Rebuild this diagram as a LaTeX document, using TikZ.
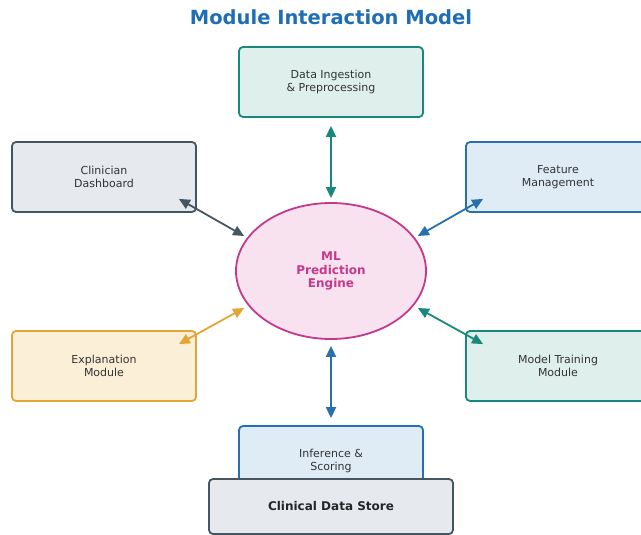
\documentclass[tikz,border=0pt]{standalone}
\usepackage{fontspec}
\setmainfont{DejaVu Sans}
\usetikzlibrary{calc,arrows.meta,shapes.geometric}
\definecolor{tealline}{HTML}{16897A}
\definecolor{tealfill}{HTML}{DFF0EC}
\definecolor{grayline}{HTML}{465562}
\definecolor{grayfill}{HTML}{E6E9EE}
\definecolor{blueline}{HTML}{2770B0}
\definecolor{bluefill}{HTML}{DFECF6}
\definecolor{orangeline}{HTML}{E3A535}
\definecolor{orangefill}{HTML}{FCEFD8}
\definecolor{magline}{HTML}{C4398C}
\definecolor{magfill}{HTML}{F8E2F0}
\definecolor{titleblue}{HTML}{1F6DB3}
\definecolor{txtgray}{HTML}{333333}
\begin{document}
\begin{tikzpicture}[x=1pt,y=-1pt,
		box/.style={draw,rounded corners=4pt,line width=1.8pt,minimum width=184pt,minimum height=70pt,align=center,text=txtgray,font=\fontsize{11}{13}\selectfont},
		link/.style={<->,>={Triangle[length=11pt,width=10pt]},line width=1.8pt}]
		\useasboundingbox (0,0) rectangle (641,535);
		\node[font=\bfseries\fontsize{19.5}{22}\selectfont,text=titleblue] (title) at (331,17) {Module Interaction Model};
		% modules round the engine
		\node[box,fill=tealfill,draw=tealline] (ingest) at (331,82) {Data Ingestion\\\& Preprocessing};
		\node[box,fill=grayfill,draw=grayline] (dash) at (104,177) {Clinician\\Dashboard};
		\node[box,fill=bluefill,draw=blueline] (feature) at (558,177) {Feature\\Management};
		\node[box,fill=orangefill,draw=orangeline] (explain) at (104,366) {Explanation\\Module};
		\node[box,fill=tealfill,draw=tealline] (train) at (558,366) {Model Training\\Module};
		\node[box,fill=bluefill,draw=blueline] (infer) at (331,461) {Inference \&\\Scoring};
		\node[box,fill=grayfill,draw=grayline,minimum width=244pt,minimum height=55pt,font=\bfseries\fontsize{12}{14}\selectfont,text=black!85] (store) at (331,506.5) {Clinical Data Store};
		\node[ellipse,draw=magline,fill=magfill,line width=1.8pt,minimum width=190pt,minimum height=136pt,align=center,text=magline,font=\bfseries\fontsize{12}{13.5}\selectfont] (engine) at (331,271) {ML\\Prediction\\Engine};
		% links
		\draw[link,color=tealline] ($(ingest.south)+(0,8)$) -- ($(engine.north)+(0,-4)$);
		\draw[link,color=blueline] ($(engine.south)+(0,6)$) -- ($(infer.north)+(0,-7)$);
		\draw[link,color=grayline] ($(dash.south east)+(-18,-14)$) -- ($(engine.west)+(9,-35)$);
		\draw[link,color=blueline] ($(feature.south west)+(18,-14)$) -- ($(engine.east)+(-9,-35)$);
		\draw[link,color=orangeline] ($(explain.north east)+(-18,14)$) -- ($(engine.west)+(9,37)$);
		\draw[link,color=tealline] ($(train.north west)+(18,14)$) -- ($(engine.east)+(-9,37)$);
	\end{tikzpicture}
\end{document}
